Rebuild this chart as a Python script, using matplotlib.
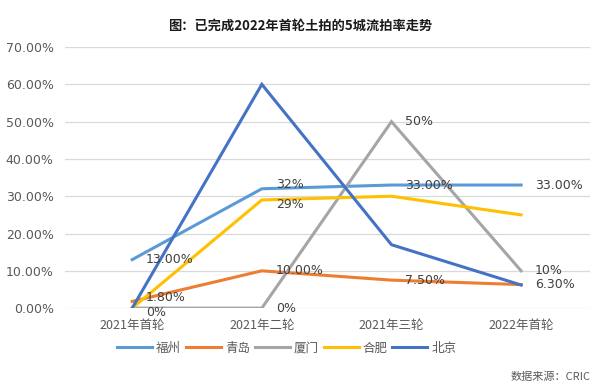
import matplotlib
matplotlib.use("Agg")
import matplotlib.pyplot as plt
from matplotlib.ticker import PercentFormatter

plt.rcParams['font.family'] = ['Noto Sans CJK SC', 'DejaVu Sans']

# data
rounds = ["2021年首轮", "2021年二轮", "2021年三轮", "2022年首轮"]
cities = ["福州", "青岛", "厦门", "合肥", "北京"]
fuzhou = [13, 32, 33, 33]
qingdao = [1.8, 10, 7.5, 6.3]
xiamen = [0, 0, 50, 10]
hefei = [0, 29, 30, 25]
beijing = [0, 60, 17, 6.2]

# data labels shown on the chart (None = no label)
fuzhou_lbl = ["13.00%", "32%", "33.00%", "33.00%"]
qingdao_lbl = ["1.80%", "10.00%", "7.50%", "6.30%"]
xiamen_lbl = ["0%", "0%", "50%", "10%"]
hefei_lbl = [None, "29%", None, None]
beijing_lbl = [None, None, None, None]

colors = ["#5B9BD5", "#ED7D31", "#A5A5A5", "#FFC000", "#4472C4"]
series = [fuzhou, qingdao, xiamen, hefei, beijing]
labels = [fuzhou_lbl, qingdao_lbl, xiamen_lbl, hefei_lbl, beijing_lbl]
# small vertical nudges (points) so crowded labels don't sit on top of each other
nudge = [[0, 3, 0, 0], [3, 0, 0, 0], [-3, 0, 0, 0], [0, -3, 0, 0], [0, 0, 0, 0]]

fig = plt.figure(figsize=(6, 3.92), dpi=100)
ax = fig.add_axes([0.108, 0.214, 0.875, 0.666])

x = list(range(len(rounds)))
for name, vals, c in zip(cities, series, colors):
    ax.plot(x, vals, color=c, lw=2.2, label=name, solid_joinstyle="miter")

for vals, lbls, dy in zip(series, labels, nudge):
    for xi, v, t, d in zip(x, vals, lbls, dy):
        if t is None:
            continue
        ax.annotate(t, (xi, v), xytext=(10, d), textcoords="offset points",
                    ha="left", va="center", fontsize=9, color="#404040",
                    family=["DejaVu Sans"])

ax.set_xlim(-0.52, 3.53)
ax.set_ylim(0, 70)
ax.set_yticks(range(0, 71, 10))
ax.yaxis.set_major_formatter(PercentFormatter(decimals=2))
ax.set_xticks(x)
ax.set_xticklabels(rounds)
ax.grid(axis="y", color="#D9D9D9", lw=0.9)
ax.set_axisbelow(True)
for s in ax.spines.values():
    s.set_visible(False)
ax.tick_params(length=0, labelsize=9, colors="#595959", pad=8)
for t in ax.get_yticklabels():
    t.set_family(["DejaVu Sans"])

fig.text(0.5, 0.935, "图：已完成2022年首轮土拍的5城流拍率走势", ha="center",
         va="center", fontsize=9.5, fontweight="bold", color="#1a1a1a")

fig.legend(loc="center", bbox_to_anchor=(0.478, 0.112), ncol=5, frameon=False,
           fontsize=9, handlelength=2.8, columnspacing=0.4, handletextpad=0.3,
           labelcolor="#595959")

fig.text(0.985, 0.038, "数据来源：CRIC", ha="right", va="center",
         fontsize=8, color="#595959")

fig.savefig("out.png", dpi=100)
